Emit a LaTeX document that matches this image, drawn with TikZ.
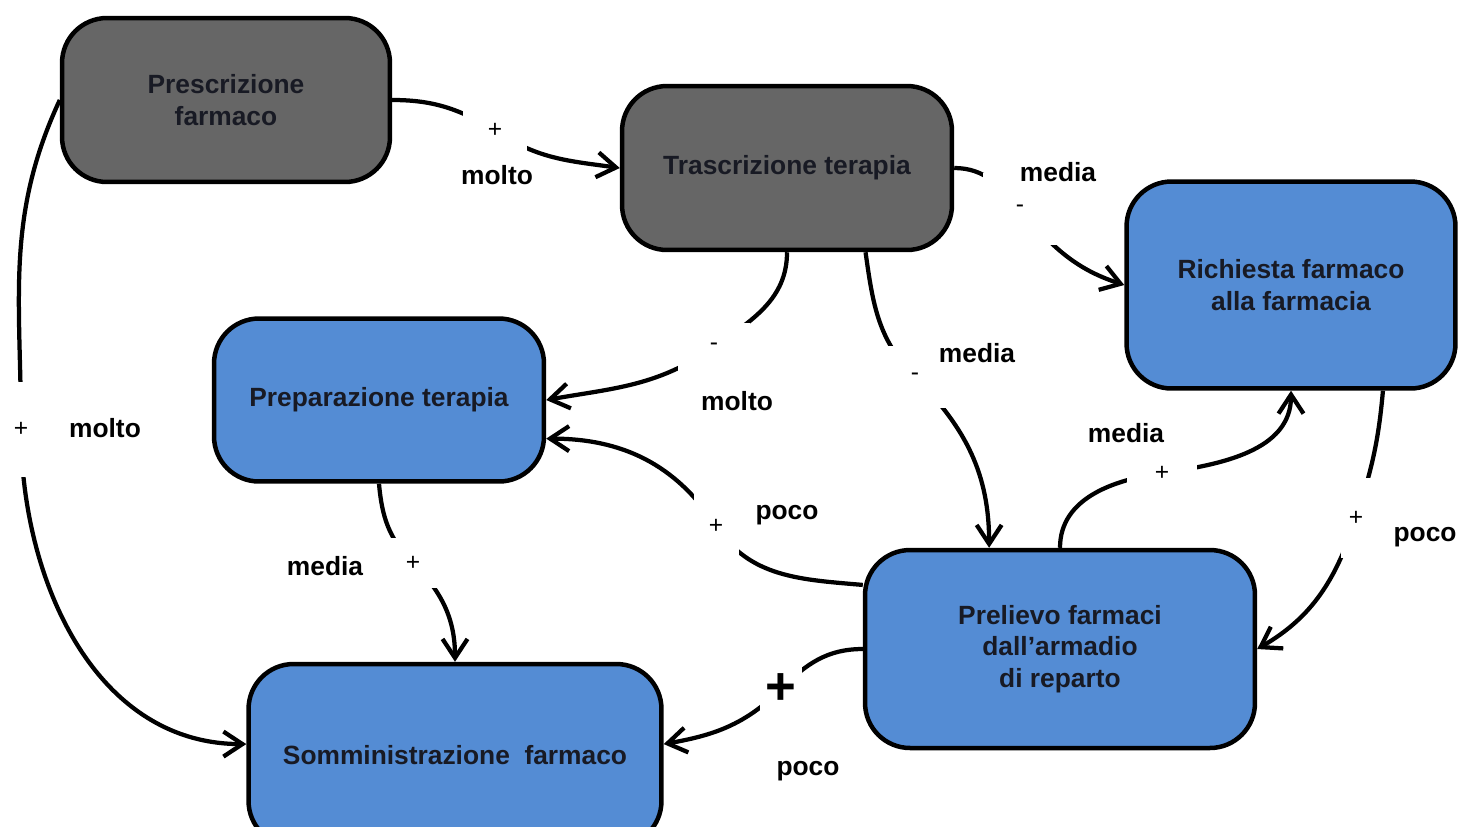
\documentclass[tikz,border=0pt]{standalone}
\usepackage{fontspec}
\setmainfont{Liberation Sans}
\usetikzlibrary{arrows.meta}
\usetikzlibrary{backgrounds}

\definecolor{phasegray}{RGB}{102,102,102}
\definecolor{phaseblue}{RGB}{84,140,212}
\definecolor{phasetext}{RGB}{24,26,36}

\tikzset{
  phase/.style={rectangle, rounded corners=0.9cm, draw=black, line width=0.09cm,
    align=center, inner sep=0pt, text=phasetext,
    font=\fontsize{15}{18}\selectfont\bfseries},
  grayphase/.style={phase, fill=phasegray},
  bluephase/.style={phase, fill=phaseblue},
  sign/.style={fill=white, inner sep=0pt, font=\fontsize{14}{16}\selectfont},
  weight/.style={inner sep=0pt, font=\fontsize{15}{18}\selectfont\bfseries},
  conn/.style={line width=0.085cm, -{Straight Barb[length=3.8mm,width=5mm]}},
}

\begin{document}
\begin{tikzpicture}[x=0.02cm, y=-0.02cm]
        \useasboundingbox (0,0) rectangle (1459,826);

        % phases
        \node[grayphase, minimum width=6.56cm, minimum height=3.28cm] (presc) at (226,100) {Prescrizione\\farmaco};
        \node[grayphase, minimum width=6.6cm,  minimum height=3.28cm] (trasc) at (787,168) {Trascrizione terapia};
        \node[bluephase, minimum width=6.58cm, minimum height=4.14cm] (rich)  at (1291,285) {Richiesta farmaco\\alla farmacia};
        \node[bluephase, minimum width=6.6cm,  minimum height=3.26cm] (prep)  at (379,400) {Preparazione terapia};
        \node[bluephase, minimum width=7.8cm,  minimum height=3.96cm] (prel)  at (1060,649) {Prelievo farmaci\\dall’armadio\\di reparto};
        \node[bluephase, minimum width=8.26cm, minimum height=3.64cm] (somm)  at (455,755) {Somministrazione~~farmaco};

        % signs (they break the lines)
        \node[sign, minimum width=1.28cm, minimum height=0.88cm] (s1)  at (495,130) {+};
        \node[sign, minimum width=1.5cm,  minimum height=1.44cm] (s2)  at (1020,209) {-};
        \node[sign, minimum width=1.44cm, minimum height=0.96cm] (s3)  at (714,347) {-};
        \node[sign, minimum width=1.34cm, minimum height=1.24cm] (s4)  at (915,377) {-};
        \node[sign, minimum width=0.6cm,  minimum height=1.9cm]  (s5)  at (21,429) {+};
        \node[sign, minimum width=1.0cm,  minimum height=1.0cm]  (s6)  at (413,563) {+};
        \node[sign, minimum width=0.9cm,  minimum height=1.3cm]  (s7)  at (716,526) {+};
        \node[sign, minimum width=0.84cm, minimum height=1.0cm, font=\fontsize{30}{30}\selectfont\bfseries] (s8) at (781,689) {+};
        \node[sign, minimum width=1.4cm,  minimum height=0.44cm] (s9)  at (1162,473) {+};
        \node[sign, minimum width=0.6cm,  minimum height=1.6cm]  (s10) at (1356,518) {+};

        % weights
        \node[weight] (w1)  at (497,175)  {molto};
        \node[weight] (w2)  at (1058,172) {media};
        \node[weight] (w3)  at (737,401)  {molto};
        \node[weight] (w4)  at (977,353)  {media};
        \node[weight] (w5)  at (105,428)  {molto};
        \node[weight] (w6)  at (325,566)  {media};
        \node[weight] (w7)  at (787,515)  {poco};
        \node[weight] (w8)  at (808,771)  {poco};
        \node[weight] (w9)  at (1126,433) {media};
        \node[weight] (w10) at (1425,537) {poco};

        \begin{scope}[on background layer]
          \draw[conn] (presc.east) to[out=0,in=150] (s1.center) to[out=-35,in=172] (trasc.west);
          \draw[conn] (trasc.east) to[out=0,in=130] (s2.center) to[out=-50,in=162] (rich.west);
          \draw[conn] (trasc.south) to[out=-90,in=35] (s3.center) to[out=215,in=10] (prep.east);
          \draw[conn] (trasc.-47) to[out=-82,in=135] (s4.center) to[out=-45,in=90] (prel.125);
          \draw[conn] (presc.west) to[out=245,in=90] (s5.center) to[out=-90,in=180] (somm.177);
          \draw[conn] (prep.south) to[out=-85,in=135] (s6.center) to[out=-45,in=90] (somm.north);
          \draw[conn] (prel.162) to[out=175,in=-57] (s7.center) to[out=123,in=0] (prep.-13);
          \draw[conn] (prel.west) to[out=180,in=45] (s8.center) to[out=225,in=10] (somm.3);
          \draw[conn] (prel.north) to[out=90,in=188] (s9.center) to[out=8,in=-90] (rich.south);
          \draw[conn] (rich.-49) to[out=-95,in=72] (s10.center) to[out=-108,in=30] (prel.east);
        \end{scope}
      \end{tikzpicture}
\end{document}
